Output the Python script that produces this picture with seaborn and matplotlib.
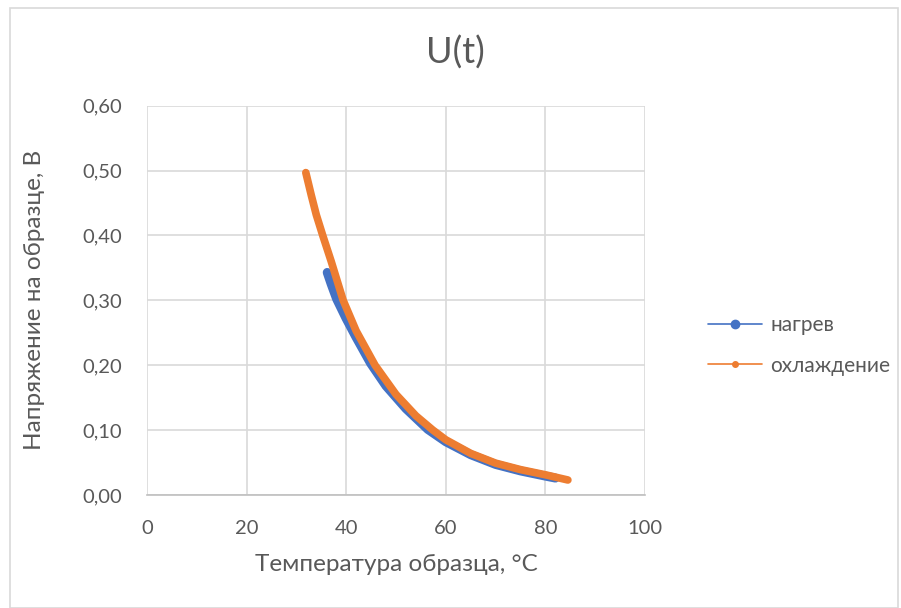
import numpy as np
import pandas as pd
import matplotlib
matplotlib.use("Agg")
import matplotlib.pyplot as plt
import seaborn as sns
from matplotlib.lines import Line2D
from matplotlib.patches import Rectangle
from matplotlib.ticker import FuncFormatter

# values
heat_t = [36.2, 37.0, 38.1, 40.0, 42.0, 44.9, 48.0, 52.0, 56.4, 60.0, 65.0, 70.0, 75.0, 80.0, 82.0]
heat_u = [0.343, 0.325, 0.302, 0.272, 0.243, 0.203, 0.168, 0.133, 0.101, 0.082, 0.062, 0.047, 0.037, 0.029, 0.026]
cool_t = [31.9, 33.0, 34.0, 35.3, 37.0, 39.4, 42.0, 45.8, 50.0, 54.0, 57.4, 60.0, 65.0, 70.0, 75.0, 80.0, 84.5]
cool_u = [0.497, 0.462, 0.432, 0.400, 0.360, 0.300, 0.253, 0.200, 0.155, 0.122, 0.100, 0.085, 0.064, 0.049, 0.039, 0.031, 0.023]
series_names = ["нагрев", "охлаждение"]
colors = ["#4472C4", "#ED7D31"]
x_ticks = [0, 20, 40, 60, 80, 100]
y_ticks = [0.0, 0.1, 0.2, 0.3, 0.4, 0.5, 0.6]

df = pd.concat([
    pd.DataFrame({"t": heat_t, "u": heat_u, "series": series_names[0]}),
    pd.DataFrame({"t": cool_t, "u": cool_u, "series": series_names[1]}),
])

sns.set_style("white")
plt.rcParams["font.family"] = ["Lato", "DejaVu Sans"]
txt = "#595959"

fig = plt.figure(figsize=(9.01, 6.08), dpi=100)
ax = fig.add_axes([0.163, 0.186, 0.553, 0.640])

sns.lineplot(data=df, x="t", y="u", hue="series", palette=colors, sort=False,
             estimator=None, legend=False, ax=ax, linewidth=6.5,
             solid_capstyle="round", solid_joinstyle="round")
ax.lines[1].set_linewidth(5.5)

ax.set_xlim(0, 100)
ax.set_ylim(0, 0.6)
ax.set_xticks(x_ticks)
ax.set_yticks(y_ticks)
ax.yaxis.set_major_formatter(FuncFormatter(lambda v, p: f"{v:.2f}".replace(".", ",")))
ax.grid(True, color="#d9d9d9", linewidth=1.2)
ax.set_axisbelow(True)
for s in ["left", "right", "top"]:
    ax.spines[s].set_visible(False)
ax.spines["bottom"].set_color("#bfbfbf")
ax.spines["bottom"].set_linewidth(1.2)
ax.tick_params(axis="both", length=0, labelsize=14.5, labelcolor=txt)
ax.tick_params(axis="x", pad=18)
ax.tick_params(axis="y", pad=18)

ax.set_xlabel("Температура образца, °C", fontsize=17.5, color=txt, va="center")
ax.set_ylabel("Напряжение на образце, В", fontsize=17.5, color=txt, va="center")
ax.xaxis.set_label_coords(0.5, -0.18)
ax.yaxis.set_label_coords(-0.225, 0.5)
fig.text(0.505, 0.914, "U(t)", ha="center", va="center", fontsize=26, color=txt)

handles = [
    Line2D([], [], color=colors[0], linewidth=1.2, marker="o", markersize=6),
    Line2D([], [], color=colors[1], linewidth=1.2, marker="o", markersize=4),
]
fig.legend(handles, series_names, loc="center left", bbox_to_anchor=(0.765, 0.432),
           frameon=False, fontsize=15, labelcolor=txt, handlelength=2.6,
           labelspacing=1.0, handletextpad=0.4)

fig.patches.append(Rectangle((0.011, 0.0), 0.986, 0.987, transform=fig.transFigure,
                             fill=False, edgecolor="#d9d9d9", linewidth=1.2))

fig.savefig("out.png", dpi=100)
